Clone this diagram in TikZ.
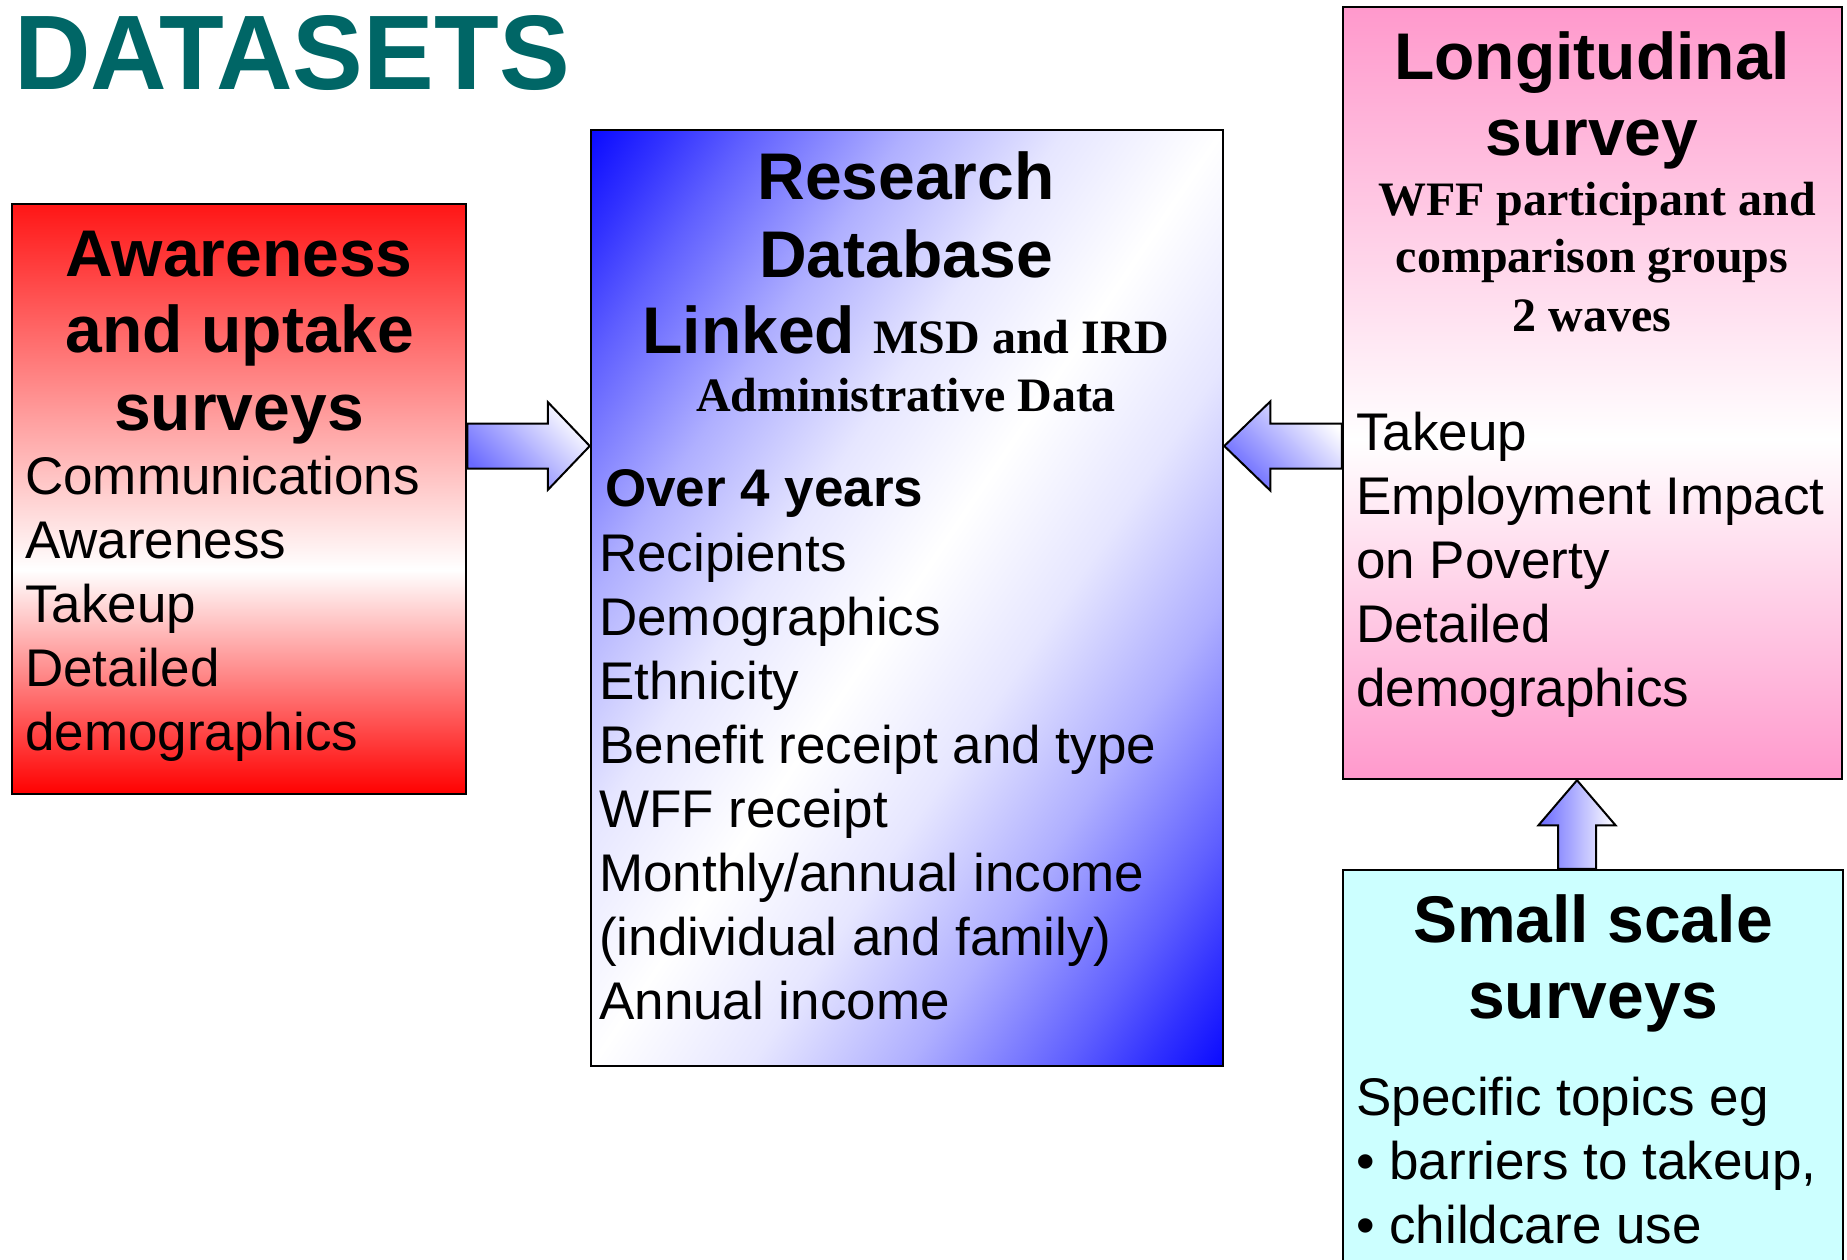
\documentclass[tikz,border=0pt]{standalone}
\usepackage{fontspec}
\setmainfont{Liberation Sans}
\newfontfamily\timesfont{Liberation Serif}
\usetikzlibrary{calc}

\definecolor{titleteal}{RGB}{0,102,102}
\definecolor{boxred}{RGB}{255,22,22}
\definecolor{boxredlow}{RGB}{255,0,0}
\definecolor{boxpink}{RGB}{255,153,204}
\definecolor{boxcyan}{RGB}{204,255,255}
\definecolor{boxblue}{RGB}{10,10,255}
\definecolor{blueA}{RGB}{50,50,255}
\definecolor{blueB}{RGB}{95,95,255}
\definecolor{blueC}{RGB}{175,175,255}
\definecolor{blueD}{RGB}{230,230,255}
\definecolor{arrowblue}{RGB}{105,105,255}

% vertical fades: 25bp = bottom edge, 75bp = top edge of the filled shape
\pgfdeclareverticalshading{redfade}{100bp}{%
  color(0bp)=(boxredlow); color(25bp)=(boxredlow); color(44bp)=(white);
  color(75bp)=(boxred); color(100bp)=(boxred)}
\pgfdeclareverticalshading{pinkfade}{100bp}{%
  color(0bp)=(boxpink); color(25bp)=(boxpink); color(47bp)=(white);
  color(75bp)=(boxpink); color(100bp)=(boxpink)}
% blue at both ends, white in the middle, easing out of the corners
\pgfdeclarehorizontalshading{bluediag}{100bp}{%
  color(0bp)=(boxblue); color(25bp)=(boxblue); color(28.1bp)=(blueA);
  color(31.25bp)=(blueB); color(37.5bp)=(blueC); color(43.75bp)=(blueD);
  color(50bp)=(white); color(56.25bp)=(blueD); color(62.5bp)=(blueC);
  color(68.75bp)=(blueB); color(71.9bp)=(blueA); color(75bp)=(boxblue);
  color(100bp)=(boxblue)}

\tikzset{
  frame/.style={draw=black, line width=2.5pt, inner sep=0pt},
  titletext/.style={inner sep=0pt, anchor=base west, text=titleteal,
    font=\fontsize{106}{120}\selectfont\bfseries},
  headline/.style={inner sep=0pt, anchor=base,
    font=\fontsize{66}{76}\selectfont\bfseries},
  serifline/.style={inner sep=0pt, anchor=base,
    font=\fontsize{48}{55}\selectfont\timesfont\bfseries},
  bodyline/.style={inner sep=0pt, anchor=base west,
    font=\fontsize{53}{64}\selectfont},
  boldbody/.style={inner sep=0pt, anchor=base west,
    font=\fontsize{53}{64}\selectfont\bfseries},
  blockarrow/.style={draw=black, line width=2pt, line join=miter},
}

\begin{document}
\begin{tikzpicture}[x=1pt,y=-1pt]
\clip (0,0) rectangle (1847,1260);
\fill[white] (0,0) rectangle (1847,1260);

% heading of the slide
\node[titletext] (title) at (14,90) {DATASETS};

% diagonal fade of the database box: the band runs from the lower left
% to the upper right corner; the shading axis is normal to that band
\begin{scope}
  \clip (591,130) rectangle (1223,1066);
  \begin{scope}[transform canvas={shift={(907pt,-598pt)}, rotate=-34}]
    \shade[shading=bluediag] (-523.8,-760) rectangle (523.8,760);
  \end{scope}
\end{scope}

% the four data sources
\node[frame, minimum width=454pt, minimum height=590pt, shading=redfade]
      (aware) at (239,499) {};
\node[frame, minimum width=632pt, minimum height=936pt]
      (db) at (907,598) {};
\node[frame, minimum width=499pt, minimum height=772pt, shading=pinkfade]
      (long) at (1592.5,393) {};
\node[frame, minimum width=500pt, minimum height=430pt, fill=boxcyan]
      (small) at (1593,1085) {};

% block arrows feeding the research database
\coordinate (row) at (0,446);
\coordinate (col) at (1577,0);

\path[blockarrow, bottom color=arrowblue, top color=white, shading angle=-45]
  ($(aware.east|-row)+(0,-22.5)$) -- ($(db.west|-row)+(-42,-22.5)$)
  -- ($(db.west|-row)+(-42,-44)$) -- (db.west|-row)
  -- ($(db.west|-row)+(-42,44)$) -- ($(db.west|-row)+(-42,22.5)$)
  -- ($(aware.east|-row)+(0,22.5)$) -- cycle;

\path[blockarrow, bottom color=arrowblue, top color=white, shading angle=-45]
  (db.east|-row) -- ($(db.east|-row)+(46,-44.5)$)
  -- ($(db.east|-row)+(46,-22.5)$) -- ($(long.west|-row)+(0,-22.5)$)
  -- ($(long.west|-row)+(0,22.5)$) -- ($(db.east|-row)+(46,22.5)$)
  -- ($(db.east|-row)+(46,44.5)$) -- cycle;

\path[blockarrow, left color=arrowblue, right color=white]
  (long.south-|col) -- ($(long.south-|col)+(38.5,45)$)
  -- ($(long.south-|col)+(19,45)$) -- ($(small.north-|col)+(19,0)$)
  -- ($(small.north-|col)+(-19,0)$) -- ($(long.south-|col)+(-19,45)$)
  -- ($(long.south-|col)+(-38.5,45)$) -- cycle;

% awareness and uptake surveys
\node[headline] (aw1) at (239,276) {Awareness};
\node[headline] (aw2) at (240,352) {and uptake};
\node[headline] (aw3) at (239,430) {surveys};
\node[bodyline] (awb1) at (25,494) {Communications};
\node[bodyline] (awb2) at (25,558) {Awareness};
\node[bodyline] (awb3) at (25,622) {Takeup};
\node[bodyline] (awb4) at (25,686) {Detailed};
\node[bodyline] (awb5) at (25,750) {demographics};

% research database
\node[headline] (db1) at (906,200) {Research};
\node[headline] (db2) at (906,277) {Database};
\node[headline] (db3) at (906,353) {Linked {\fontsize{48}{55}\selectfont\timesfont MSD and IRD}};
\node[serifline] (db4) at (906,411) {Administrative Data};
\node[boldbody] (dbh) at (605,506) {Over 4 years};
\node[bodyline] (dbb1) at (599,571) {Recipients};
\node[bodyline] (dbb2) at (599,635) {Demographics};
\node[bodyline] (dbb3) at (599,699) {Ethnicity};
\node[bodyline] (dbb4) at (599,763) {Benefit receipt and type};
\node[bodyline] (dbb5) at (599,827) {WFF receipt};
\node[bodyline] (dbb6) at (599,891) {Monthly/annual income};
\node[bodyline] (dbb7) at (599,955) {(individual and family)};
\node[bodyline] (dbb8) at (599,1019) {Annual income};

% longitudinal survey
\node[headline] (lg1) at (1592,80) {Longitudinal};
\node[headline] (lg2) at (1592,156) {survey};
\node[serifline] (lg3) at (1597,216) {WFF participant and};
\node[serifline] (lg4) at (1592,272) {comparison groups};
\node[serifline] (lg5) at (1592,331) {2 waves};
\node[bodyline] (lgb1) at (1356,450) {Takeup};
\node[bodyline] (lgb2) at (1356,514) {Employment Impact};
\node[bodyline] (lgb3) at (1356,578) {on Poverty};
\node[bodyline] (lgb4) at (1356,642) {Detailed};
\node[bodyline] (lgb5) at (1356,706) {demographics};

% small scale surveys
\node[headline] (sm1) at (1593,942) {Small scale};
\node[headline] (sm2) at (1593,1018) {surveys};
\node[bodyline] (smb1) at (1356,1115) {Specific topics eg};
\node[bodyline] (smb2) at (1356,1179) {\textbullet\ barriers to takeup,};
\node[bodyline] (smb3) at (1356,1243) {\textbullet\ childcare use};
\end{tikzpicture}
\end{document}
